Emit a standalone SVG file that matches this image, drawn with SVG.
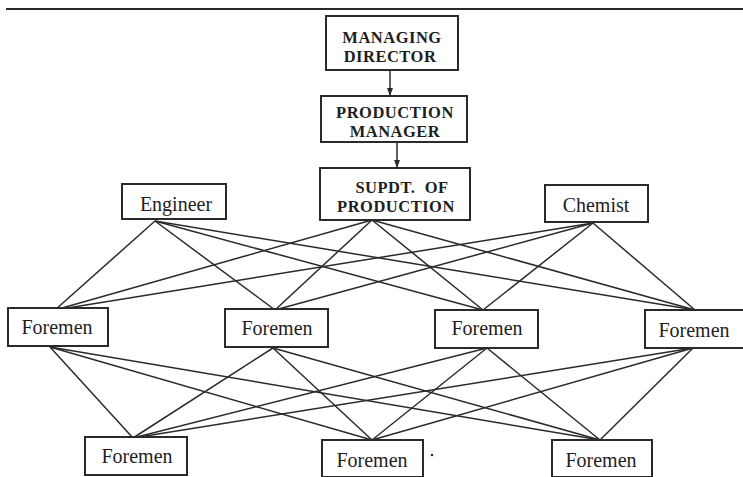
<svg xmlns="http://www.w3.org/2000/svg" width="743" height="477" viewBox="0 0 743 477">
<defs>
<style>
.box{fill:#fff;stroke:#2a2a2a;stroke-width:2}
.ln{stroke:#2a2a2a;stroke-width:1.5;fill:none}
.b{font-family:"Liberation Serif","Times New Roman",serif;font-weight:bold;font-size:16.5px;letter-spacing:0.5px;fill:#1e1e1e;text-anchor:middle}
.r{font-family:"Liberation Serif","Times New Roman",serif;font-size:20px;fill:#1e1e1e;text-anchor:middle}
</style>
<marker id="arr" markerWidth="8" markerHeight="8" refX="7" refY="4" orient="auto" markerUnits="userSpaceOnUse">
<path d="M0,1 L8,4 L0,7 Z" fill="#2a2a2a"/>
</marker>
</defs>
<line x1="6" y1="9" x2="743" y2="9" stroke="#2a2a2a" stroke-width="2"/>
<g id="connectors">
<line class="ln" x1="390" y1="70" x2="390" y2="95" marker-end="url(#arr)"/>
<line class="ln" x1="397" y1="142" x2="397" y2="167" marker-end="url(#arr)"/>
<g id="mid-links">
<line class="ln" x1="155" y1="221" x2="55" y2="310"/>
<line class="ln" x1="155" y1="221" x2="275" y2="310"/>
<line class="ln" x1="155" y1="221" x2="483" y2="310"/>
<line class="ln" x1="155" y1="221" x2="695" y2="310"/>
<line class="ln" x1="372" y1="220" x2="55" y2="310"/>
<line class="ln" x1="372" y1="220" x2="275" y2="310"/>
<line class="ln" x1="372" y1="220" x2="483" y2="310"/>
<line class="ln" x1="372" y1="220" x2="695" y2="310"/>
<line class="ln" x1="593" y1="223" x2="55" y2="310"/>
<line class="ln" x1="593" y1="223" x2="275" y2="310"/>
<line class="ln" x1="593" y1="223" x2="483" y2="310"/>
<line class="ln" x1="593" y1="223" x2="695" y2="310"/>
</g>
<g id="low-links">
<line class="ln" x1="50" y1="347" x2="133" y2="438"/>
<line class="ln" x1="50" y1="347" x2="372" y2="440"/>
<line class="ln" x1="50" y1="347" x2="600" y2="440"/>
<line class="ln" x1="273" y1="348" x2="133" y2="438"/>
<line class="ln" x1="273" y1="348" x2="372" y2="440"/>
<line class="ln" x1="273" y1="348" x2="600" y2="440"/>
<line class="ln" x1="487" y1="348" x2="133" y2="438"/>
<line class="ln" x1="487" y1="348" x2="372" y2="440"/>
<line class="ln" x1="487" y1="348" x2="600" y2="440"/>
<line class="ln" x1="693" y1="348" x2="133" y2="438"/>
<line class="ln" x1="693" y1="348" x2="372" y2="440"/>
<line class="ln" x1="693" y1="348" x2="600" y2="440"/>
</g>
</g>
<g id="managing-director">
<rect class="box" x="326" y="16" width="132" height="54"/>
<text class="b" x="392" y="43">MANAGING</text>
<text class="b" x="390" y="62">DIRECTOR</text>
</g>
<g id="production-manager">
<rect class="box" x="321" y="96" width="146" height="46"/>
<text class="b" x="395" y="118">PRODUCTION</text>
<text class="b" x="395" y="137">MANAGER</text>
</g>
<g id="supdt">
<rect class="box" x="320" y="168" width="150" height="52"/>
<text class="b" x="402" y="193" xml:space="preserve">SUPDT.  OF</text>
<text class="b" x="396" y="212">PRODUCTION</text>
</g>
<g id="engineer">
<rect class="box" x="122" y="184" width="104" height="35"/>
<text class="r" x="176" y="211">Engineer</text>
</g>
<g id="chemist">
<rect class="box" x="545" y="185" width="103" height="37"/>
<text class="r" x="596" y="212">Chemist</text>
</g>
<g id="foremen-1">
<rect class="box" x="8" y="308" width="100" height="38"/>
<text class="r" x="57" y="334">Foremen</text>
</g>
<g id="foremen-2">
<rect class="box" x="225" y="309" width="103" height="38"/>
<text class="r" x="277" y="335">Foremen</text>
</g>
<g id="foremen-3">
<rect class="box" x="435" y="310" width="103" height="38"/>
<text class="r" x="487" y="335">Foremen</text>
</g>
<g id="foremen-4">
<rect class="box" x="645" y="310" width="99" height="38"/>
<text class="r" x="694" y="337">Foremen</text>
</g>
<g id="foremen-5">
<rect class="box" x="85" y="437" width="102" height="38"/>
<text class="r" x="137" y="463">Foremen</text>
</g>
<g id="foremen-6">
<rect class="box" x="322" y="440" width="101" height="37"/>
<text class="r" x="372" y="467">Foremen</text>
</g>
<g id="foremen-7">
<rect class="box" x="552" y="440" width="100" height="37"/>
<text class="r" x="601" y="467">Foremen</text>
</g>
<circle cx="432" cy="455" r="1.3" fill="#2a2a2a"/>
</svg>
